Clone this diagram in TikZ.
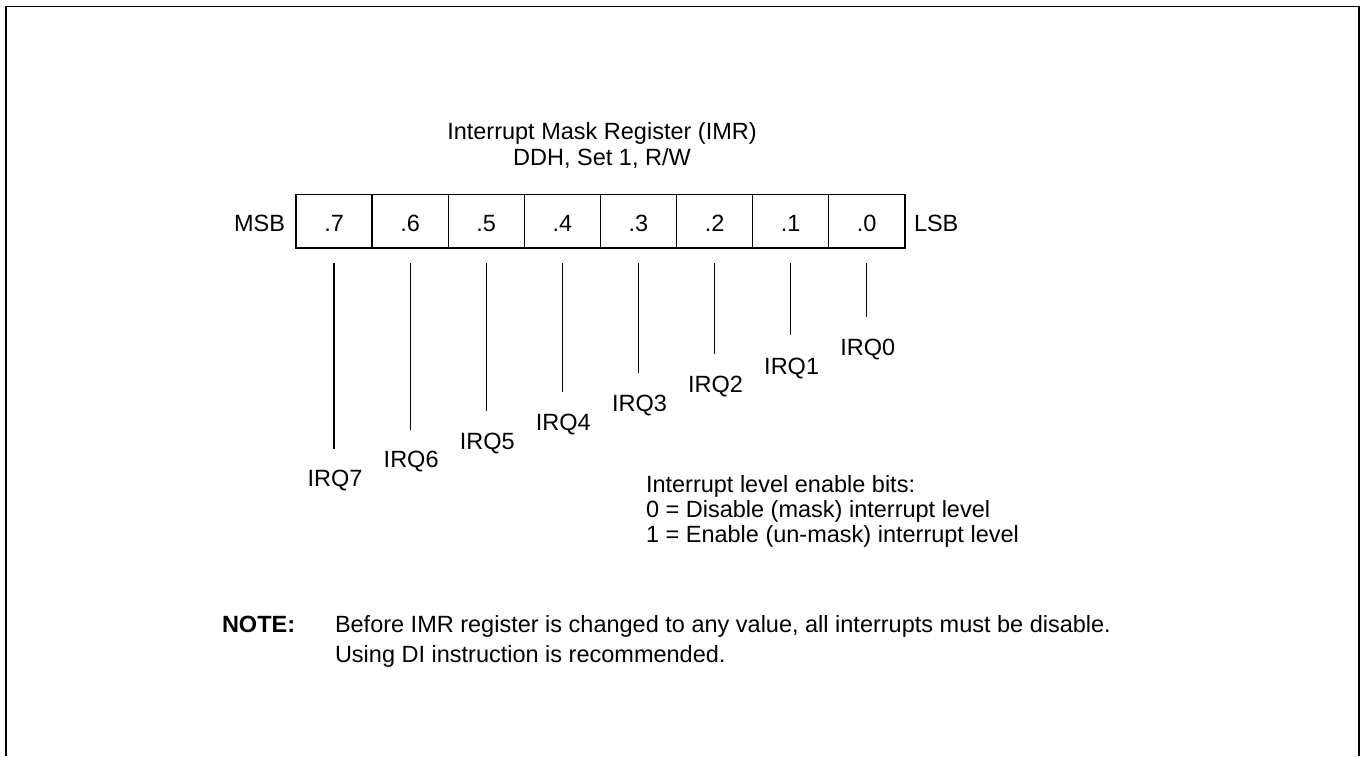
\documentclass[tikz,border=0pt]{standalone}
\usepackage{fontspec}
\setmainfont{Liberation Sans}
\usetikzlibrary{calc}
\begin{document}
\begin{tikzpicture}[x=1pt,y=-1pt,
  txt/.style={inner sep=0pt,outer sep=0pt,font=\fontsize{23.5}{24}\selectfont},
  cell/.style={draw,line width=1.4pt,minimum width=76.1pt,minimum height=53.5pt,inner sep=0pt,outer sep=0pt,anchor=north west},
  lead/.style={line width=1.2pt},
  frame/.style={line width=1.7pt}]
\useasboundingbox (0,0) rectangle (1361,756);
% frame (open at the bottom)
\coordinate (fa) at (6,756);
\coordinate (fb) at (6,6.5);
\coordinate (fc) at (1359,6.5);
\coordinate (fd) at (1359,756);
\draw[frame] (fa) -- (fb) -- (fc) -- (fd);
% title
\node[txt,anchor=base] (t1) at (602,139.5) {Interrupt Mask Register (IMR)};
\node[txt,anchor=base] (t2) at (602,165) {DDH, Set 1, R/W};
% register cells
\foreach \i/\b in {0/7,1/6,2/5,3/4,4/3,5/2,6/1,7/0}{
  \node[cell] (c\b) at (296+\i*76.1,194.5) {};
  \node[txt,anchor=base] (l\b) at ($(c\b.north)+(0,37)$) {.\b};
}
\node[txt,anchor=base east] (msb) at (285,231.5) {MSB};
\node[txt,anchor=base west] (lsb) at (914,231.5) {LSB};
% leader lines and IRQ labels
\foreach \b in {0,...,7}{
  \coordinate (s\b) at ($(c\b.south)+(0,15)$);
  \coordinate (e\b) at ($(c\b.south)+(0,68.5+\b*18.86)$);
  \draw[lead] (s\b) -- (e\b);
  \node[txt,anchor=base] (q\b) at ($(c\b.south)+(1,107.5+\b*18.7)$) {IRQ\b};
}
% legend
\node[txt,anchor=base west] (g1) at (646,492) {Interrupt level enable bits:};
\node[txt,anchor=base west] (g2) at (646,517) {0 = Disable (mask) interrupt level};
\node[txt,anchor=base west] (g3) at (646,542) {1 = Enable (un-mask) interrupt level};
% note
\node[txt,anchor=base west,font=\fontsize{23.5}{24}\selectfont\bfseries] (nt) at (222,632) {NOTE:};
\node[txt,anchor=base west] (n1) at (335,632) {Before IMR register is changed to any value, all interrupts must be disable.};
\node[txt,anchor=base west] (n2) at (335,662) {Using DI instruction is recommended.};
\end{tikzpicture}
\end{document}
